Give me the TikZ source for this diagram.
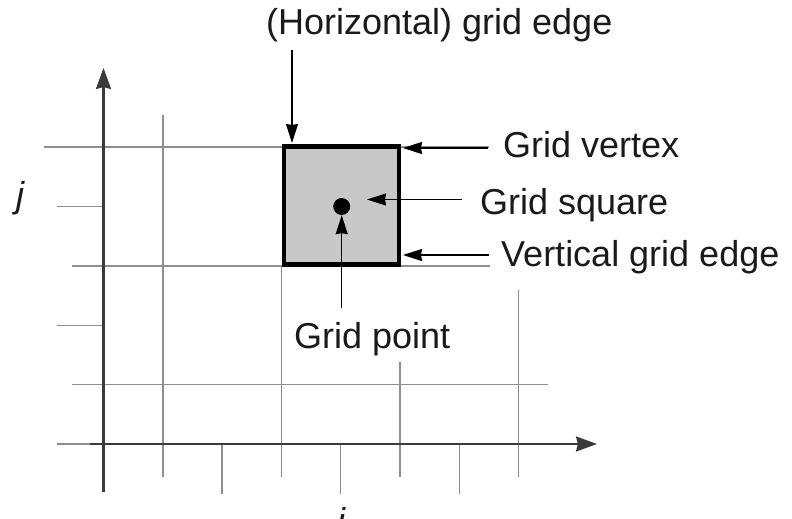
\documentclass[tikz,border=0pt]{standalone}
\usepackage{fontspec}
\setmainfont{Liberation Sans}
\usetikzlibrary{arrows.meta}
\definecolor{gridgray}{HTML}{8E8E8E}
\definecolor{axisgray}{HTML}{3A3A3A}
\definecolor{sqfill}{HTML}{C8C8C8}
\definecolor{textcol}{HTML}{1A1A1A}
\begin{document}
\begin{tikzpicture}[x=1pt,y=-1pt,
  gridline/.style={draw=gridgray,line width=1.4pt},
  axisline/.style={draw=axisgray,line width=2.2pt,-{Stealth[length=21pt,width=15pt,inset=2pt]}},
  pointer/.style={draw=black,line width=1.4pt,-{Stealth[length=19pt,width=12pt,inset=1pt]}},
  lbl/.style={font=\fontsize{36}{43}\selectfont,inner sep=0pt,anchor=base west,text=textcol},
  axlbl/.style={font=\fontsize{36}{43}\selectfont\itshape,inner sep=0pt,anchor=base,text=textcol}]
\useasboundingbox (0,0) rectangle (792,519);
% horizontal grid lines
\draw[gridline] (44,147) -- (489,147);
\draw[gridline] (57,206.4) -- (103.5,206.4);
\draw[gridline] (72,265.8) -- (490,265.8);
\draw[gridline] (57,325.2) -- (103.5,325.2);
\draw[gridline] (72,384.6) -- (548,384.6);
\draw[gridline] (57,444) -- (103.5,444);
% vertical grid lines
\draw[gridline] (162.8,115) -- (162.8,477);
\draw[gridline] (222.1,444) -- (222.1,494);
\draw[gridline] (281.4,265.8) -- (281.4,477);
\draw[gridline] (340.7,444) -- (340.7,494);
\draw[gridline] (400,362) -- (400,477);
\draw[gridline] (459.3,444) -- (459.3,494);
\draw[gridline] (518.6,290) -- (518.6,477);
% axes
\coordinate (ybot) at (103.5,492);
\coordinate (ytop) at (103.5,68);
\coordinate (xleft) at (90,444);
\coordinate (xright) at (597,444);
\draw[axisline] (ybot) -- (ytop);
\draw[axisline] (xleft) -- (xright);
\draw[draw=axisgray,line width=2.2pt] (103.5,444) -- (90,444);
% grid square and point
\node[draw=black,fill=sqfill,line width=4.5pt,minimum width=115pt,minimum height=118pt,inner sep=0pt,outer sep=0pt] (sq) at (341.5,205.5) {};
\node[circle,fill=black,minimum size=17pt,inner sep=0pt] (gp) at (341.7,206.5) {};
% labels
\node[lbl] (hge) at (266,35) {(Horizontal) grid edge};
\node[lbl] (gv) at (503,157) {Grid vertex};
\node[lbl] (gs) at (480,214) {Grid square};
\node[lbl] (vge) at (501,266) {Vertical grid edge};
\node[lbl] (gpl) at (294,348) {Grid point};
\node[axlbl] (jl) at (20,207) {j};
\node[axlbl] (il) at (341,533) {i};
% pointer coordinates
\coordinate (hgeT) at (292,50);
\coordinate (hgeH) at (292,143);
\coordinate (gvT) at (488,148);
\coordinate (gvH) at (403,148);
\coordinate (gsT) at (462,199.5);
\coordinate (gsH) at (367,199.5);
\coordinate (vgeT) at (489,255);
\coordinate (vgeH) at (403,255);
\coordinate (gpT) at (341.7,308);
\draw[pointer] (hgeT) -- (hgeH);
\draw[pointer] (gvT) -- (gvH);
\draw[pointer] (gsT) -- (gsH);
\draw[pointer] (vgeT) -- (vgeH);
\draw[pointer] (gpT) -- (gp.south);
\end{tikzpicture}
\end{document}
